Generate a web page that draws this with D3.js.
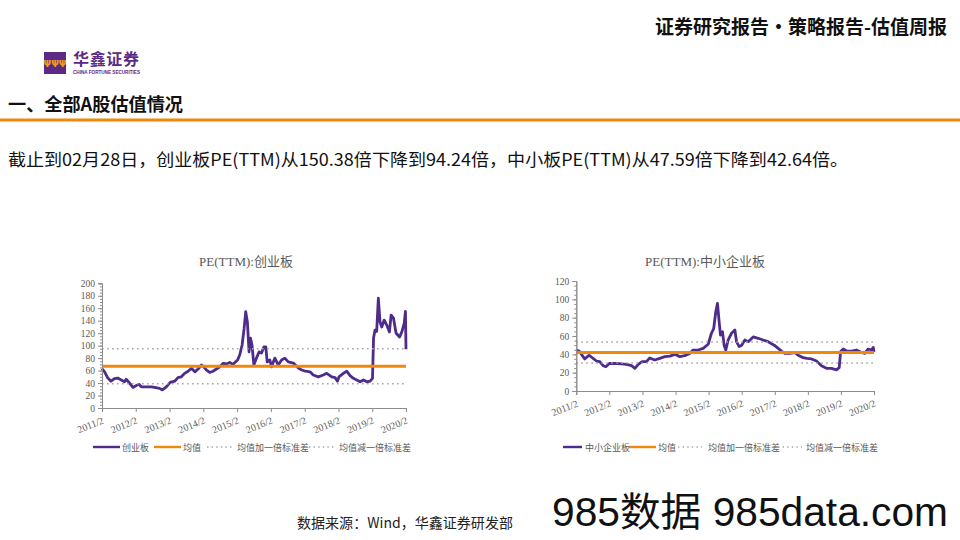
<!DOCTYPE html>
<html><head><meta charset="utf-8">
<script src="https://cdn.jsdelivr.net/npm/d3@7"></script>
<style>body{margin:0;background:#fff}svg{display:block}</style>
</head><body><svg id="c" width="960" height="540"></svg>
<script>
// ---------- DATA ----------
const xTickLabels = ["2011/2","2012/2","2013/2","2014/2","2015/2","2016/2","2017/2","2018/2","2019/2","2020/2"];

const cybDates = ["2011-02-01","2011-03-01","2011-04-05","2011-05-10","2011-06-15","2011-07-20","2011-08-28","2011-10-03","2011-10-20","2011-11-26",
"2012-01-02","2012-02-07","2012-03-06","2012-04-01","2012-05-25","2012-07-18","2012-08-23","2012-10-16","2012-11-15","2012-12-28",
"2013-02-07","2013-03-28","2013-05-02","2013-06-08","2013-07-13","2013-08-20","2013-09-25","2013-11-01","2013-12-06","2014-01-12",
"2014-02-06","2014-03-05","2014-04-10","2014-05-16","2014-06-22","2014-07-28","2014-09-03","2014-10-08","2014-11-14","2014-12-19",
"2015-02-06","2015-03-01","2015-03-27","2015-04-18","2015-05-05","2015-05-23","2015-06-10","2015-06-25","2015-07-12","2015-08-01",
"2015-08-29","2015-09-27","2015-10-22","2015-11-17","2015-12-08","2015-12-23","2016-01-21","2016-02-08","2016-03-15","2016-04-20",
"2016-05-27","2016-07-01","2016-08-07","2016-10-01","2016-11-24","2016-12-31","2017-02-10","2017-03-30","2017-05-04","2017-06-28",
"2017-08-21","2017-09-27","2017-11-20","2017-12-26","2018-01-21","2018-02-06","2018-03-26","2018-05-01","2018-06-06","2018-07-12",
"2018-08-17","2018-09-23","2018-10-29","2018-12-04","2019-01-09","2019-02-04","2019-02-15","2019-03-03","2019-03-21","2019-04-08",
"2019-04-26","2019-05-15","2019-06-10","2019-07-08","2019-08-06","2019-08-24","2019-09-19","2019-10-17","2019-11-24","2019-12-18",
"2020-01-13","2020-01-26","2020-02-01"];
const cybValues = [63,58,48,43,47,48,45,42,46,40,
33,36,38,34,34,34,33,31.5,29,34,
41,43,48.7,50,55.6,59,63.6,58,62.6,69,
66,61,57,59,62.6,66,71.7,70.6,73,70,
77,85,101,128,154.5,138,90,112,101,69,
80,90,88,98,98,74,77,66,80,69,
77,80,74,72,64,61,59,58,53,50,
53,55.6,50,48.7,43,50,55.6,59,52,47.6,
45,42,45,42,43,47.6,112,125,123,176,
138,130,141,133,122,149,144,120,114,122,
136,155,94.24];
const cybMean = 67, cybUpper = 95, cybLower = 39;

const zxbDates = ["2011-02-01","2011-03-04","2011-03-30","2011-05-05","2011-06-22","2011-08-06","2011-09-12","2011-10-18","2011-11-24","2011-12-24",
"2012-02-01","2012-03-06","2012-04-19","2012-06-13","2012-08-09","2012-10-03","2012-11-09","2012-12-16","2013-01-28","2013-03-16",
"2013-04-22","2013-06-16","2013-08-11","2013-10-06","2013-12-01","2014-01-25","2014-03-19","2014-05-13","2014-07-07","2014-08-13",
"2014-10-08","2014-12-03","2015-01-27","2015-03-04","2015-03-29","2015-04-21","2015-05-10","2015-05-28","2015-06-12","2015-07-04",
"2015-07-22","2015-08-10","2015-09-04","2015-10-12","2015-11-18","2015-12-06","2016-01-04","2016-02-01","2016-03-07","2016-04-13",
"2016-06-07","2016-08-01","2016-09-25","2016-11-19","2017-01-25","2017-03-10","2017-04-16","2017-05-22","2017-07-16","2017-09-10",
"2017-10-16","2017-12-10","2018-01-21","2018-03-13","2018-05-07","2018-07-01","2018-08-25","2018-10-19","2018-12-13","2019-01-13",
"2019-01-28","2019-02-27","2019-04-04","2019-05-28","2019-07-22","2019-09-15","2019-10-22","2019-11-28","2020-01-04","2020-01-24","2020-02-01"];
const zxbValues = [44.7,43.6,40,35,39,35.6,32.7,32,27.6,26.5,
30,30,30,29.5,29,27.6,24.7,29,32,32,
36,33.8,35.6,37.5,38,40,37.5,38.5,41,44.7,
44.7,46.5,51,63,68,86.5,95.6,75.6,61,64.7,
50,44.7,55.6,63,66.5,53.8,48.4,50,55.6,53.8,
59,57.5,55.6,53.8,50,46.5,43.6,41,41,42,
39,36.4,35.6,35,32.7,27.6,24.7,24.7,23,25.5,
43,45.8,43.6,43.6,44.7,42,41,45.8,44.7,47.59,42.64];
const zxbMean = 42, zxbUpper = 53.5, zxbLower = 30.5;

const cybYTicks = [0,20,40,60,80,100,120,140,160,180,200];
const zxbYTicks = [0,20,40,60,80,100,120];
const legendLabels = ["均值","均值加一倍标准差","均值减一倍标准差"];

// ---------- DRAW ----------
const svg = d3.select('#c');
const parse = d3.timeParse('%Y-%m-%d');
const PURPLE = '#4e2c8c', ORANGE = '#f0880a', DOT = '#a6a6a6', AX = '#8c8c8c', TXT = '#595959';
const serif = '"Liberation Serif","Noto Sans CJK SC",serif';
const sans = '"Noto Sans CJK SC","Liberation Sans",sans-serif';

// header
svg.append('text').attr('x',947).attr('y',34).attr('text-anchor','end')
  .attr('font-family',sans).attr('font-weight','bold').attr('font-size',19)
  .attr('textLength',292).attr('lengthAdjust','spacingAndGlyphs').attr('fill','#111')
  .text('证券研究报告·策略报告-估值周报');
// logo
svg.append('rect').attr('x',44).attr('y',52).attr('width',22).attr('height',22).attr('fill','#5b2a86');
svg.append('text').attr('x',55).attr('y',67).attr('text-anchor','middle').attr('font-size',9)
  .attr('font-family','DejaVu Sans').attr('fill','#f39c1e').attr('font-weight','bold').text('ΨΨΨ');
svg.append('text').attr('x',73).attr('y',65).attr('font-family',sans).attr('font-size',16)
  .attr('font-weight','bold').attr('fill','#5b2a86').attr('textLength',66).text('华鑫证券');
svg.append('text').attr('x',73).attr('y',73.5).attr('font-family','"Liberation Sans"').attr('font-size',5)
  .attr('font-weight','bold').attr('fill','#5b2a86').attr('textLength',67).attr('lengthAdjust','spacingAndGlyphs')
  .text('CHINA FORTUNE SECURITIES');
// section heading
svg.append('text').attr('x',8).attr('y',111).attr('font-family',sans).attr('font-weight','bold')
  .attr('font-size',18).attr('fill','#111').attr('textLength',175).attr('lengthAdjust','spacingAndGlyphs')
  .text('一、全部A股估值情况');
svg.append('rect').attr('x',0).attr('y',118.5).attr('width',960).attr('height',3).attr('fill',ORANGE);
// body
svg.append('text').attr('x',8).attr('y',166).attr('font-family',sans).attr('font-size',17)
  .attr('fill','#111').attr('textLength',840).attr('lengthAdjust','spacingAndGlyphs')
  .text('截止到02月28日，创业板PE(TTM)从150.38倍下降到94.24倍，中小板PE(TTM)从47.59倍下降到42.64倍。');
// footer
svg.append('text').attr('x',297).attr('y',528).attr('font-family',sans).attr('font-size',14)
  .attr('fill','#222').attr('textLength',216).attr('lengthAdjust','spacingAndGlyphs')
  .text('数据来源：Wind，华鑫证券研发部');
svg.append('text').attr('x',552).attr('y',526).attr('font-family','"Liberation Sans","Noto Sans CJK SC",sans-serif')
  .attr('font-size',40).attr('fill','#111').attr('textLength',396).attr('lengthAdjust','spacingAndGlyphs')
  .text('985数据 985data.com');

function drawChart(o){
  const g = svg.append('g');
  const x = d3.scaleTime().domain([parse('2011-02-01'), parse('2020-02-01')]).range([o.x0, o.x1]);
  const y = d3.scaleLinear().domain([0, o.yMax]).range([o.y0, o.y1]);
  const xTicks = xTickLabels.map(s => { const [yy,mm] = s.split('/'); return new Date(+yy, +mm-1, 1); });

  g.append('text').attr('x',o.titleX).attr('y',o.titleY).attr('text-anchor','middle')
    .attr('font-family',serif).attr('font-size',13).attr('fill',TXT).text(o.title);

  const data = o.dates.map((d,i) => ({d: parse(d), v: o.values[i]}));
  g.append('path').datum(data).attr('fill','none').attr('stroke',PURPLE).attr('stroke-width',2.8)
    .attr('stroke-linejoin','round')
    .attr('d', d3.line().x(p => x(p.d)).y(p => y(p.v)));

  g.append('line').attr('x1',o.x0).attr('x2',o.x1).attr('y1',y(o.mean)).attr('y2',y(o.mean))
    .attr('stroke',ORANGE).attr('stroke-width',2.8);
  [o.upper,o.lower].forEach(v => g.append('line').attr('x1',o.x0).attr('x2',o.x1)
    .attr('y1',y(v)).attr('y2',y(v)).attr('stroke',DOT).attr('stroke-width',1.6).attr('stroke-dasharray','1.6,3.4'));

  // y axis minor
  const minor = d3.range(0, o.yMax + 0.1, 5);
  g.append('g').attr('transform',`translate(${o.x0},0)`)
    .call(d3.axisLeft(y).tickValues(minor).tickSize(2).tickFormat(''))
    .call(s => s.selectAll('line,path').attr('stroke',AX));
  g.append('g').attr('transform',`translate(${o.x0},0)`)
    .call(d3.axisLeft(y).tickValues(o.yTicks).tickSize(4).tickPadding(3))
    .call(s => s.selectAll('line,path').attr('stroke',AX))
    .call(s => s.selectAll('text').attr('font-family',serif).attr('font-size',9.5).attr('fill',TXT));
  g.append('g').attr('transform',`translate(0,${o.y0})`)
    .call(d3.axisBottom(x).tickValues(xTicks).tickSize(4).tickFormat((d,i) => xTickLabels[i]))
    .call(s => s.selectAll('line,path').attr('stroke',AX))
    .call(s => s.selectAll('text').attr('font-family',serif).attr('font-size',10).attr('fill',TXT)
      .attr('text-anchor','end').attr('x',0).attr('y',0).attr('dy',0)
      .attr('transform','translate(2,15) rotate(-22)'));

  // legend
  const L = o.legend, ly = 447;
  const lg = g.append('g').attr('font-family',serif).attr('font-size',9).attr('fill',TXT);
  lg.append('line').attr('x1',L[0]).attr('x2',L[1]).attr('y1',ly).attr('y2',ly).attr('stroke',PURPLE).attr('stroke-width',2.4);
  lg.append('text').attr('x',L[2]).attr('y',ly+3.5).text(o.seriesName);
  lg.append('line').attr('x1',L[3]).attr('x2',L[4]).attr('y1',ly).attr('y2',ly).attr('stroke',ORANGE).attr('stroke-width',2.4);
  lg.append('text').attr('x',L[5]).attr('y',ly+3.5).text(legendLabels[0]);
  lg.append('line').attr('x1',L[6]).attr('x2',L[7]).attr('y1',ly).attr('y2',ly).attr('stroke',DOT).attr('stroke-width',1.4).attr('stroke-dasharray','1.4,3.2');
  lg.append('text').attr('x',L[8]).attr('y',ly+3.5).text(legendLabels[1]);
  lg.append('line').attr('x1',L[9]).attr('x2',L[10]).attr('y1',ly).attr('y2',ly).attr('stroke',DOT).attr('stroke-width',1.4).attr('stroke-dasharray','1.4,3.2');
  lg.append('text').attr('x',L[11]).attr('y',ly+3.5).text(legendLabels[2]);
}

drawChart({title:'PE(TTM):创业板', seriesName:'创业板', titleX:246, titleY:266,
  x0:102, x1:406, y0:408, y1:283.3, yMax:200, yTicks:cybYTicks,
  dates:cybDates, values:cybValues, mean:cybMean, upper:cybUpper, lower:cybLower,
  legend:[93,120,122, 154,181,183, 207,232,237, 309,335,339]});
drawChart({title:'PE(TTM):中小企业板', seriesName:'中小企业板', titleX:705, titleY:266,
  x0:576.3, x1:874, y0:391, y1:281, yMax:120, yTicks:zxbYTicks,
  dates:zxbDates, values:zxbValues, mean:zxbMean, upper:zxbUpper, lower:zxbLower,
  legend:[563,582,585, 629,656,658, 678,702,708, 778,802,806]});
</script></body></html>
